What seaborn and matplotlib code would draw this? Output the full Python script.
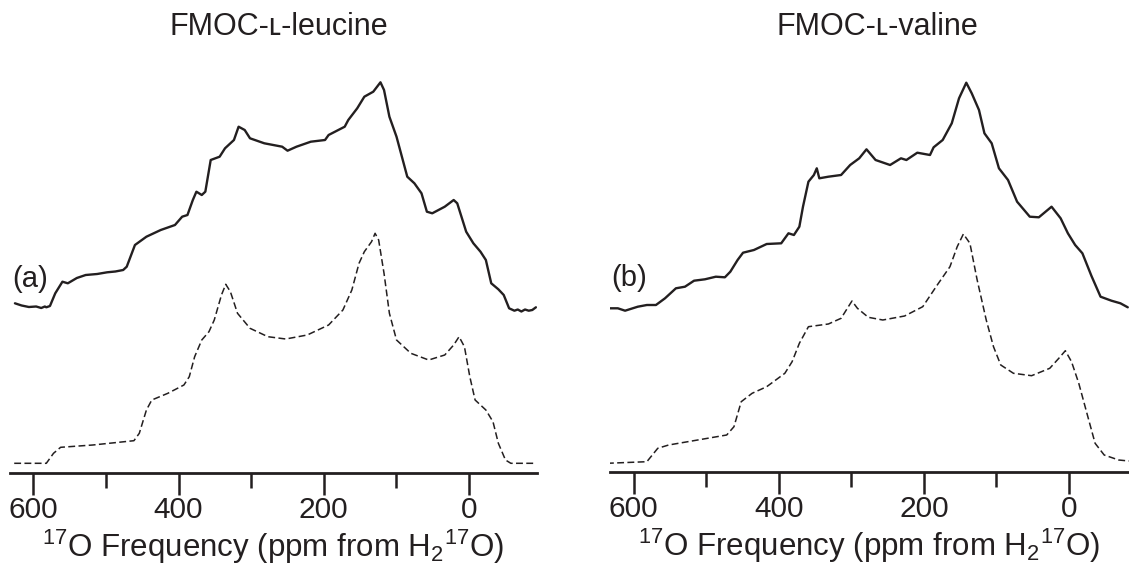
import matplotlib
matplotlib.use("Agg")
import matplotlib.pyplot as plt
import seaborn as sns
import pandas as pd
from matplotlib.ticker import FixedLocator

# ---------------- data (ppm from H2-17O, intensity in arbitrary units) ----------------
leu_exp_ppm = [625.2, 616, 606, 596, 589, 584, 582.0, 577.0, 569.7, 559.8, 552.4, 540, 527.8, 512,
               498.3, 487, 476.2, 471.3, 460.0, 444.2, 424.5, 404.9, 395.0, 387.7, 380.3, 375.4,
               368.0, 363.1, 355.7, 343.4, 336.0, 323.7, 317.3, 308.9, 301.6, 281.9, 257.3, 249.9,
               237.6, 217.9, 198.3, 193.4, 171.2, 166.3, 154.0, 144.2, 131.9, 122.0, 117.1, 109.7,
               99.9, 85.1, 75.3, 65.5, 58.1, 50.7, 33.5, 21.2, 16.3, 4.0, -5.9, -15.7, -23.1, -30.5,
               -40.3, -47.7, -55.1, -62.4, -67, -72, -77, -82.1, -87, -92.0]
leu_exp_int = [169.7, 167.5, 166, 166.5, 165, 166.5, 165.7, 167.0, 179.7, 191.3, 189.7, 195, 198, 199,
               200.7, 201.5, 203, 206.3, 228, 236.3, 243, 248, 256.3, 258, 273, 281.3,
               278, 281.3, 313, 316.3, 324.7, 333, 346.3, 343, 334.7, 329.7, 326.3, 322.3,
               326.3, 331.3, 333, 338, 346.3, 353, 364.7, 376.3, 381.3, 390.7, 383, 356.3,
               336.3, 296.3, 289.7, 279.7, 261.3, 259.7, 266.3, 273, 269.7, 241.3, 229.7, 221.3, 213, 189.7,
               183.7, 178, 164.7, 162.3, 163.5, 161.5, 163.5, 162.3, 163, 165.7]

leu_sim_ppm = [626.2, 582.0, 572.1, 562.3, 518.0, 461.4, 454.0, 444.2, 436.8, 414.7, 392.6, 385.2,
               377.8, 368.0, 358.1, 350.8, 340.9, 335.0, 328.6, 318.8, 301.6, 277.0, 252.4, 222.8,
               193.4, 173.7, 161.4, 151.5, 144.2, 134.3, 129.4, 124.5, 117.1, 109.7, 99.9, 80.2,
               55.6, 33.5, 21.2, 13.8, 6.4, -1.0, -8.3, -23.1, -32.9, -40.3, -50.1, -57.5, -92.0]
leu_sim_int = [9.7, 9.7, 19.7, 25.7, 28, 32.3, 39.7, 63, 73, 79.7, 88, 96.3,
               116.3, 133, 141.3, 153, 178, 188.7, 181.3, 159.7, 144.7, 136.3, 134, 138,
               148, 163, 183, 209.7, 221.3, 231.3, 239.7, 233, 199.7, 159.7, 133, 119.7,
               113, 118, 128, 136.3, 126.3, 96.3, 73, 63, 51.3, 29.7, 13, 9.7, 9.7]

val_exp_ppm = [636.7, 621.7, 611.7, 594.2, 581.7, 569.2, 556.7, 541.7, 529.2, 516.7, 501.7, 486.7,
               474.2, 466.7, 456.7, 449.2, 434.2, 416.6, 396.6, 386.6, 379.1, 371.6, 366.6, 359.1,
               351.6, 347.6, 344.1, 331.6, 314.1, 301.6, 289.1, 279.1, 266.6, 246.6, 231.6, 224.1,
               209.1, 191.6, 186.6, 174.1, 161.6, 151.6, 141.6, 134.1, 124.1, 116.6, 106.6, 96.6,
               84.1, 71.6, 54.1, 41.6, 24.1, 11.6, 1.6, -8.4, -18.4, -30.9, -43.4, -58.4, -70.8, -80.9]
val_exp_int = [163.7, 163.7, 161.3, 165.3, 167, 167, 173.7, 183.7, 185.3, 191.3, 192.7, 195.3,
               194.7, 200.3, 212, 219.3, 222, 228, 228.7, 238.7, 237, 245.3, 265.3, 290.3,
               297, 303.7, 293.7, 295.3, 297, 307, 313.7, 322.7, 312, 307, 313.7, 312,
               319.3, 317, 324.7, 332, 348.7, 373.7, 389.3, 378.7, 362, 338.7, 328.7, 303.7,
               292, 270.3, 255.3, 254.7, 265.3, 253.7, 238.7, 227, 218.7, 196, 175.3, 171.3, 168.7, 164.7]

val_sim_ppm = [636.7, 581.7, 566.7, 551.7, 471.7, 461.7, 451.7, 436.7, 416.6, 391.6, 381.6, 371.6,
               359.1, 331.6, 314.1, 304.1, 299.1, 291.6, 276.6, 256.6, 226.6, 201.6, 181.6, 164.1,
               154.1, 145.6, 136.6, 126.6, 114.1, 104.1, 94.1, 76.6, 51.6, 26.6, 14.1, 5.1, -3.4,
               -13.4, -25.9, -35.9, -48.4, -68.4, -82.4]
val_sim_int = [8.7, 10.3, 23.7, 27, 37, 45.3, 70.3, 78.7, 85.3, 98.7, 110.3, 128.7,
               145.3, 148, 153.7, 165.3, 171, 163.7, 154.7, 152, 156, 165.3, 187, 205.3,
               225.3, 238, 228.7, 192, 152, 125.3, 107, 98.7, 96.3, 103.7, 113.7, 121.3, 110.3,
               88.7, 55.3, 28.7, 17, 12, 11]

titles = ["FMOC-\u029f-leucine", "FMOC-\u029f-valine"]
panel_labels = ["(a)", "(b)"]
major_ticks = [600, 400, 200, 0]
minor_ticks = [500, 300, 100]
xlabel = r"$^{17}$O Frequency (ppm from H$_2$$^{17}$O)"

# ---------------- style ----------------
sns.set_theme(style="white")
plt.rcParams["font.family"] = ["Liberation Sans", "DejaVu Sans"]
plt.rcParams["mathtext.fontset"] = "custom"
plt.rcParams["mathtext.rm"] = "Liberation Sans"
plt.rcParams["mathtext.it"] = "Liberation Sans:italic"
plt.rcParams["mathtext.bf"] = "Liberation Sans:bold"
plt.rcParams["mathtext.default"] = "regular"
INK = "#231f20"

W, H = 1129, 567
fig = plt.figure(figsize=(W / 100, H / 100), dpi=100)

panels = [
    dict(exp=(leu_exp_ppm, leu_exp_int), sim=(leu_sim_ppm, leu_sim_int),
         rect=[10 / W, (H - 473) / H, 527 / W, 413 / H], xlim=(632, -93.5),
         title_x=279, label_ppm=629),
    dict(exp=(val_exp_ppm, val_exp_int), sim=(val_sim_ppm, val_sim_int),
         rect=[610 / W, (H - 472) / H, 519 / W, 413 / H], xlim=(632.5, -82.6),
         title_x=877, label_ppm=631),
]

for i, p in enumerate(panels):
    ax = fig.add_axes(p["rect"])
    exp_df = pd.DataFrame({"ppm": p["exp"][0], "intensity": p["exp"][1]})
    sim_df = pd.DataFrame({"ppm": p["sim"][0], "intensity": p["sim"][1]})
    sns.lineplot(data=exp_df, x="ppm", y="intensity", ax=ax, color=INK, lw=1.7,
                 sort=False, estimator=None)
    sns.lineplot(data=sim_df, x="ppm", y="intensity", ax=ax, color=INK, lw=1.1,
                 sort=False, estimator=None, linestyle=(0, (4.5, 2.2)))
    ax.set_xlim(*p["xlim"])
    ax.set_ylim(0, 413)
    for s in ["top", "right", "left"]:
        ax.spines[s].set_visible(False)
    ax.spines["bottom"].set_color(INK)
    ax.spines["bottom"].set_linewidth(2.0)
    ax.set_yticks([])
    ax.set_ylabel("")
    ax.xaxis.set_major_locator(FixedLocator(major_ticks))
    ax.xaxis.set_minor_locator(FixedLocator(minor_ticks))
    ax.tick_params(axis="x", which="major", direction="out", length=16, width=1.8,
                   color=INK, labelsize=21.5, labelcolor=INK, pad=0.5, bottom=True)
    ax.tick_params(axis="x", which="minor", direction="out", length=11, width=1.8,
                   color=INK, bottom=True)
    ax.set_xlabel(xlabel, fontsize=22.5, color=INK, va="baseline")
    ax.xaxis.set_label_coords(0.5, -0.203)
    ax.text(p["label_ppm"], 194, panel_labels[i], fontsize=21, color=INK,
            ha="left", va="center")
    fig.text(p["title_x"] / W, (H - 35) / H, titles[i], fontsize=22, color=INK,
             ha="center", va="baseline")

fig.savefig("out.png", dpi=100)
